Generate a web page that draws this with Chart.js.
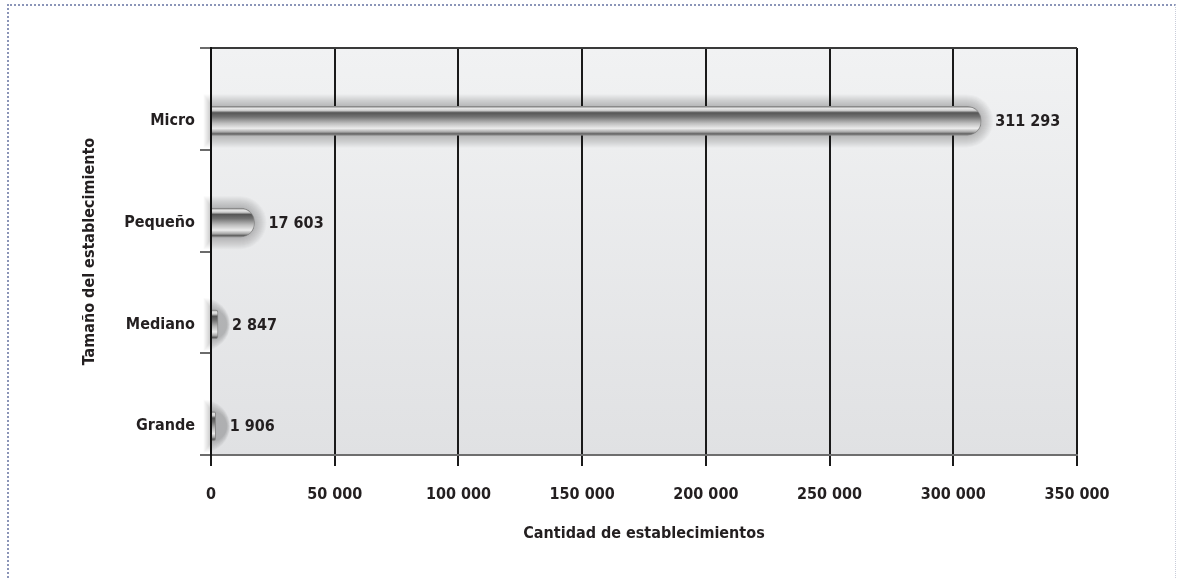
<!DOCTYPE html>
<html lang="es">
<head>
<meta charset="utf-8">
<title>Tamaño del establecimiento</title>
<script src="https://cdn.jsdelivr.net/npm/chart.js@4/dist/chart.umd.min.js"></script>
<style>
  html, body { margin: 0; padding: 0; background: #ffffff; }
  body { width: 1178px; height: 578px; position: relative; overflow: hidden; }
  .frame {
    position: absolute; left: 7px; top: 4px; width: 1166px; height: 620px;
    border-top: 2px dotted #8b95b8; border-left: 2px dotted #8b95b8;
    border-right: 1px dotted #c9cdda;
  }
  #wrap { position: absolute; left: 0; top: 0; width: 1178px; height: 578px; }
</style>
</head>
<body>
<div class="frame"></div>
<div id="wrap"><canvas id="chart" width="1178" height="578"></canvas></div>
<script>
// Establishment counts by size
const categories = ['Micro', 'Pequeño', 'Mediano', 'Grande'];
const counts = [311293, 17603, 2847, 1906];
const xTickValues = [0, 50000, 100000, 150000, 200000, 250000, 300000, 350000];

const FONT = '"DejaVu Sans Condensed", "DejaVu Sans", sans-serif';
const FONT_SIZE = 16;
const INK = '#231f20';
const BAR_H = 29;
const BAND_SHIFT = 22;   // bars and labels sit in the lower part of each band

// thousands separated by a space: 311 293
function fmt(v) {
  return String(Math.round(v)).replace(/\B(?=(\d{3})+(?!\d))/g, ' ');
}

// metallic tube fill, built over each bar's own band
function tubeFill(ctx) {
  const chart = ctx.chart;
  const ys = chart.scales && chart.scales.y;
  if (!ys || ctx.type !== 'data') return '#999';
  const yc = ys.getPixelForValue(ctx.dataIndex);
  if (!Number.isFinite(yc)) return '#999';
  const g = chart.ctx.createLinearGradient(0, yc - BAR_H / 2, 0, yc + BAR_H / 2);
  g.addColorStop(0.00, '#7d7d7d');
  g.addColorStop(0.07, '#e6e6e6');
  g.addColorStop(0.14, '#cfcfcf');
  g.addColorStop(0.22, '#565656');
  g.addColorStop(0.36, '#727272');
  g.addColorStop(0.58, '#bdbdbd');
  g.addColorStop(0.76, '#ececec');
  g.addColorStop(0.88, '#a9a9a9');
  g.addColorStop(0.95, '#5e5e5e');
  g.addColorStop(1.00, '#8c8c8c');
  return g;
}

// plot panel: soft vertical grey gradient
const panelBackground = {
  id: 'panelBackground',
  beforeDraw(chart) {
    const { ctx, chartArea: a } = chart;
    const g = ctx.createLinearGradient(0, a.top, 0, a.bottom);
    g.addColorStop(0, '#f1f2f3');
    g.addColorStop(1, '#e0e1e3');
    ctx.save();
    ctx.fillStyle = g;
    ctx.fillRect(a.left, a.top, a.right - a.left, a.bottom - a.top);
    ctx.restore();
  }
};

// tubes drawn lower in the band, each with a soft grey halo behind it
const tubeHalo = {
  id: 'tubeHalo',
  beforeDatasetsDraw(chart) {
    const ctx = chart.ctx;
    ctx.save();
    ctx.translate(0, BAND_SHIFT);
    const meta = chart.getDatasetMeta(0);
    meta.data.forEach(el => {
      const { x, y, base, height } = el.getProps(['x', 'y', 'base', 'height'], true);
      const len = Math.max(x - base, 0);
      for (let k = 12; k >= 1; k--) {
        const top = y - height / 2 - k;
        const h = height + 2 * k;
        const r = h / 2;
        const left = base - k * 0.7;
        const right = base + len + k;
        ctx.fillStyle = 'rgba(40,40,40,0.022)';
        ctx.beginPath();
        ctx.moveTo(left, top);
        ctx.lineTo(Math.max(right - r, left), top);
        ctx.arc(Math.max(right - r, left), top + r, r, -Math.PI / 2, Math.PI / 2);
        ctx.lineTo(left, top + h);
        ctx.closePath();
        ctx.fill();
      }
    });
  },
  afterDatasetsDraw(chart) {
    chart.ctx.restore();
  }
};

// value printed just past the end of each bar
const valueLabels = {
  id: 'valueLabels',
  afterDatasetsDraw(chart) {
    const ctx = chart.ctx;
    const meta = chart.getDatasetMeta(0);
    ctx.save();
    ctx.font = 'bold ' + FONT_SIZE + 'px ' + FONT;
    ctx.fillStyle = INK;
    ctx.textAlign = 'left';
    ctx.textBaseline = 'middle';
    meta.data.forEach((el, i) => {
      ctx.fillText(fmt(chart.data.datasets[0].data[i]), el.x + 14, el.y + BAND_SHIFT + 1);
    });
    ctx.restore();
  }
};

const chart = new Chart(document.getElementById('chart'), {
  type: 'bar',
  data: {
    labels: categories,
    datasets: [{
      data: counts,
      backgroundColor: tubeFill,
      borderColor: '#8a8a8a',
      borderWidth: 1,
      borderSkipped: 'start',
      borderRadius: { topRight: 14, bottomRight: 14, topLeft: 0, bottomLeft: 0 },
      barThickness: BAR_H,
      clip: false
    }]
  },
  options: {
    indexAxis: 'y',
    responsive: false,
    animation: false,
    events: [],
    layout: { padding: { left: 0, top: 48, right: 101, bottom: 0 } },
    plugins: {
      legend: { display: false },
      tooltip: { enabled: false }
    },
    scales: {
      x: {
        type: 'linear',
        min: 0,
        max: 350000,
        afterBuildTicks(scale) {
          scale.ticks = xTickValues.map(v => ({ value: v }));
        },
        afterFit(scale) { scale.height = 123; },
        grid: {
          color: '#1a1a1a',
          lineWidth: 2,
          drawTicks: true,
          tickLength: 11,
          tickColor: '#1a1a1a'
        },
        border: { display: true, color: '#6e6e6e', width: 2 },
        ticks: {
          padding: 19,
          color: INK,
          font: { family: FONT, size: FONT_SIZE, weight: 'bold' },
          callback: v => fmt(v),
          maxRotation: 0
        },
        title: {
          display: true,
          text: 'Cantidad de establecimientos',
          color: INK,
          font: { family: FONT, size: FONT_SIZE, weight: 'bold' },
          padding: { top: 0, bottom: 35 }
        }
      },
      y: {
        type: 'category',
        offset: true,
        afterFit(scale) { scale.width = 211; },
        grid: {
          offset: true,
          drawOnChartArea: true,
          color: c => (c.index === 0 ? '#3a3a3a' : 'rgba(0,0,0,0)'),
          lineWidth: 2,
          drawTicks: true,
          tickLength: 11,
          tickColor: '#3a3a3a',
          tickWidth: 1.5
        },
        border: { display: true, color: '#111111', width: 2 },
        ticks: {
          padding: 5,
          labelOffset: BAND_SHIFT,
          color: INK,
          font: { family: FONT, size: FONT_SIZE, weight: 'bold' }
        },
        title: {
          display: true,
          text: 'Tamaño del establecimiento',
          color: INK,
          font: { family: FONT, size: FONT_SIZE, weight: 'bold' },
          padding: { top: 80, bottom: 0 }
        }
      }
    }
  },
  plugins: [panelBackground, tubeHalo, valueLabels]
});
// rebuild the tube gradients once the scales have their final pixel positions
chart.update('none');
</script>
</body>
</html>
